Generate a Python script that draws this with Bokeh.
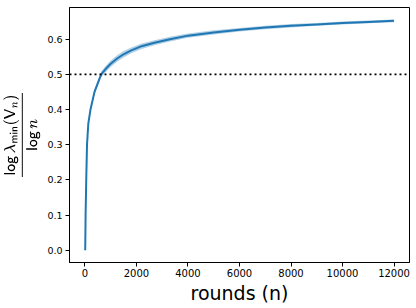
from bokeh.plotting import figure
from bokeh.models import ColumnDataSource, Range1d, FixedTicker, NumeralTickFormatter, Span
from bokeh.embed import file_html
from bokeh.resources import INLINE

rounds = [10, 25, 50, 80, 130, 215, 370, 500, 630, 800, 1000, 1250, 1500, 1800,
          2200, 2700, 3300, 4000, 5000, 6000, 7000, 8000, 9000, 10000, 11000, 12000]
mean_ratio = [0.0, 0.10, 0.20, 0.30, 0.36, 0.40, 0.45, 0.475, 0.50, 0.515, 0.53, 0.545,
              0.557, 0.568, 0.58, 0.59, 0.60, 0.61, 0.619, 0.627, 0.633, 0.638, 0.642,
              0.646, 0.649, 0.652]
band = [0.0, 0.002, 0.003, 0.004, 0.005, 0.006, 0.007, 0.008, 0.008, 0.009, 0.009, 0.009,
        0.009, 0.008, 0.008, 0.007, 0.007, 0.006, 0.006, 0.005, 0.005, 0.005, 0.004,
        0.004, 0.004, 0.004]
threshold = 0.5
x_ticks = [0, 2000, 4000, 6000, 8000, 10000, 12000]
y_ticks = [0.0, 0.1, 0.2, 0.3, 0.4, 0.5, 0.6]
x_lo, x_hi = -600, 12600
y_lo, y_hi = -0.035, 0.69

src = ColumnDataSource(dict(
    n=rounds, m=mean_ratio,
    lo=[m - b for m, b in zip(mean_ratio, band)],
    hi=[m + b for m, b in zip(mean_ratio, band)],
))

p = figure(width=416, height=308, output_backend="svg", toolbar_location=None,
           x_range=Range1d(x_lo, x_hi), y_range=Range1d(y_lo, y_hi),
           min_border_left=66, min_border_right=7, min_border_top=7, min_border_bottom=46)

p.varea(x="n", y1="lo", y2="hi", source=src, fill_color="#1f77b4", fill_alpha=0.35)
p.line(x="n", y="m", source=src, line_color="#1f77b4", line_width=2)
p.add_layout(Span(location=threshold, dimension="width", line_color="black",
                  line_width=1.6, line_dash="2 3"))

p.xgrid.visible = False
p.ygrid.visible = False
p.outline_line_color = "black"
p.outline_line_width = 1
p.outline_line_alpha = 1

p.xaxis.ticker = FixedTicker(ticks=x_ticks)
p.yaxis.ticker = FixedTicker(ticks=y_ticks)
p.xaxis.formatter = NumeralTickFormatter(format="0")
p.yaxis.formatter = NumeralTickFormatter(format="0.0")

for ax in (p.xaxis[0], p.yaxis[0]):
    ax.major_tick_in = 0
    ax.major_tick_out = 4
    ax.minor_tick_line_color = None
    ax.major_label_text_font = "DejaVu Sans"
    ax.major_label_text_font_size = "9.5px"
    ax.major_label_text_color = "black"
    ax.axis_line_color = "black"
    ax.major_tick_line_color = "black"
    ax.major_label_standoff = 3
    ax.axis_label_text_font = "DejaVu Sans"
    ax.axis_label_text_font_style = "normal"
    ax.axis_label_text_color = "black"

p.xaxis.major_label_text_font_size = "10px"
p.xaxis.major_label_standoff = 2
p.xaxis.axis_label = "rounds (n)"
p.xaxis.axis_label_text_font_size = "19px"
p.xaxis.axis_label_standoff = 2
p.yaxis.axis_label = r"$$\frac{\mathsf{log}\,\lambda_{\mathsf{min}}(\mathsf{V}_n)}{\mathsf{log}\,n}$$"
p.yaxis.axis_label_text_font_size = "12px"
p.yaxis.axis_label_standoff = 4

open("out.html", "w").write(file_html(p, INLINE))
